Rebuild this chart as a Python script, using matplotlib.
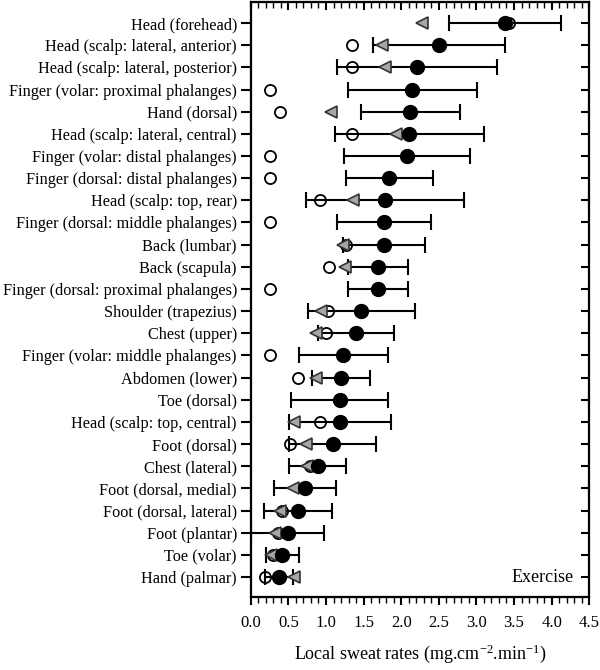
import numpy as np
import matplotlib
matplotlib.use("Agg")
import matplotlib.pyplot as plt

plt.rcParams['font.family'] = ['Liberation Serif', 'DejaVu Serif']
plt.rcParams['mathtext.fontset'] = 'custom'
plt.rcParams['mathtext.rm'] = 'Liberation Serif'
plt.rcParams['mathtext.default'] = 'regular'

# Body regions, top to bottom
regions = [
    "Head (forehead)",
    "Head (scalp: lateral, anterior)",
    "Head (scalp: lateral, posterior)",
    "Finger (volar: proximal phalanges)",
    "Hand (dorsal)",
    "Head (scalp: lateral, central)",
    "Finger (volar: distal phalanges)",
    "Finger (dorsal: distal phalanges)",
    "Head (scalp: top, rear)",
    "Finger (dorsal: middle phalanges)",
    "Back (lumbar)",
    "Back (scapula)",
    "Finger (dorsal: proximal phalanges)",
    "Shoulder (trapezius)",
    "Chest (upper)",
    "Finger (volar: middle phalanges)",
    "Abdomen (lower)",
    "Toe (dorsal)",
    "Head (scalp: top, central)",
    "Foot (dorsal)",
    "Chest (lateral)",
    "Foot (dorsal, medial)",
    "Foot (dorsal, lateral)",
    "Foot (plantar)",
    "Toe (volar)",
    "Hand (palmar)",
]

# Exercise means (filled circles) and SD
exercise_mean = [3.38, 2.50, 2.21, 2.15, 2.12, 2.11, 2.08, 1.84, 1.78, 1.77,
                 1.77, 1.69, 1.69, 1.47, 1.40, 1.23, 1.20, 1.18, 1.19, 1.09,
                 0.89, 0.72, 0.63, 0.49, 0.42, 0.375]
exercise_sd = [0.75, 0.88, 1.06, 0.86, 0.66, 0.99, 0.84, 0.58, 1.05, 0.62,
               0.55, 0.40, 0.40, 0.71, 0.50, 0.59, 0.39, 0.64, 0.68, 0.58,
               0.38, 0.41, 0.45, 0.49, 0.22, 0.19]

# Comparison values (open circles)
open_vals = [3.43, 1.34, 1.34, 0.25, 0.385, 1.34, 0.25, 0.25, 0.92, 0.25,
             1.26, 1.04, 0.25, 1.03, 1.00, 0.25, 0.63, np.nan, 0.92, 0.52,
             0.79, np.nan, 0.41, 0.36, 0.29, 0.19]

# Comparison values (grey triangles)
tri_vals = [2.28, 1.74, 1.78, np.nan, 1.07, 1.93, np.nan, np.nan, 1.36, np.nan,
            1.22, 1.25, np.nan, 0.94, 0.87, np.nan, 0.87, np.nan, 0.58, 0.74,
            0.75, 0.56, 0.39, 0.32, 0.27, 0.58]

n = len(regions)
y = np.arange(n)

fig = plt.figure(figsize=(6.0, 6.7), dpi=100)
ax = fig.add_axes([0.418, 0.109, 0.564, 0.888])

ax.errorbar(exercise_mean, y, xerr=exercise_sd, fmt='none', ecolor='black',
            elinewidth=1.5, capsize=6, capthick=1.5, zorder=2)
ax.plot(open_vals, y, 'o', ms=8, mfc='none', mec='black', mew=1.3,
        linestyle='none', zorder=3)
ax.plot(tri_vals, y, '<', ms=8.5, mfc='#a6a6a6', mec='#333333', mew=1.2,
        linestyle='none', zorder=3)
ax.plot(exercise_mean, y, 'o', ms=10, mfc='black', mec='black',
        linestyle='none', zorder=4)

ax.set_xlim(0, 4.5)
ax.set_ylim(n - 1 + 0.9, -0.95)
ax.set_xticks(np.arange(0, 4.51, 0.5))
ax.set_xticklabels([f"{v:.1f}" for v in np.arange(0, 4.51, 0.5)])
ax.set_xticks(np.arange(0, 4.51, 0.1), minor=True)
ax.set_yticks(y)
ax.set_yticklabels(regions)

for s in ax.spines.values():
    s.set_linewidth(1.5)

ax.tick_params(axis='y', direction='out', length=7, width=1.5, labelsize=11.7, pad=3)
ax.tick_params(axis='x', which='major', direction='out', length=6, width=1.5,
               labelsize=12, pad=7)
ax.tick_params(axis='x', which='minor', direction='out', length=4, width=1.0)

# right ticks point inward, top minor ticks point inward
axr = ax.twinx()
axr.set_ylim(ax.get_ylim())
axr.set_yticks(y)
axr.tick_params(axis='y', direction='in', length=6, width=1.5, labelright=False)
axt = ax.twiny()
axt.set_xlim(ax.get_xlim())
axt.set_xticks(np.arange(0, 4.51, 0.5))
axt.set_xticks(np.arange(0, 4.51, 0.1), minor=True)
axt.tick_params(axis='x', which='major', direction='in', length=6, width=1.5,
                labeltop=False)
axt.tick_params(axis='x', which='minor', direction='in', length=4, width=1.0)
for a in (axr, axt):
    for s in a.spines.values():
        s.set_linewidth(1.5)

ax.set_xlabel(r'Local sweat rates (mg.cm$^{-2}$.min$^{-1}$)', fontsize=13,
              labelpad=8)
ax.text(0.955, n - 1, 'Exercise', transform=ax.get_yaxis_transform(),
        ha='right', va='center', fontsize=13)

fig.savefig('out.png', dpi=100)
